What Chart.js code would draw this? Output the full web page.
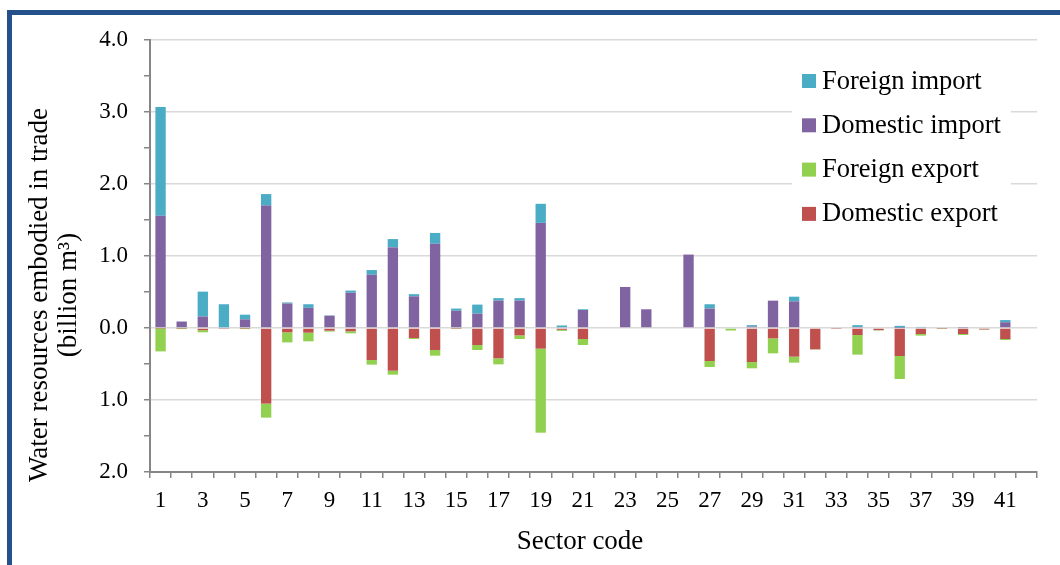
<!DOCTYPE html>
<html>
<head>
<meta charset="utf-8">
<script src="https://cdn.jsdelivr.net/npm/chart.js@4.4.1/dist/chart.umd.min.js"></script>
<style>
  html, body { margin: 0; padding: 0; background: #ffffff; }
  #wrap { position: relative; width: 1060px; height: 565px; overflow: hidden; }
  #frame {
    position: absolute; left: 7px; top: 10px; width: 1100px; height: 600px;
    border: 5px solid #24518A; box-sizing: border-box;
  }
  canvas { position: absolute; left: 0; top: 0; }
</style>
</head>
<body>
<div id="wrap">
  <div id="frame"></div>
  <canvas id="chart" width="1060" height="565"></canvas>
</div>
<script>
// Sector codes 1-42
const sectors = [1,2,3,4,5,6,7,8,9,10,11,12,13,14,15,16,17,18,19,20,21,22,23,24,25,26,27,28,29,30,31,32,33,34,35,36,37,38,39,40,41,42];

// Water embodied in trade, billion m3 (exports are plotted below zero)
const domesticImport = [1.56,0.09,0.16,0.01,0.12,1.70,0.34,0.28,0.17,0.49,0.74,1.12,0.44,1.17,0.24,0.20,0.38,0.38,1.46,0.01,0.25,0.01,0.57,0.26,0.00,1.02,0.27,0.01,0.02,0.38,0.37,0.01,0.01,0.015,0.00,0.005,0.01,0.01,0.005,0.00,0.08,0.00];
const foreignImport  = [1.51,0.00,0.345,0.32,0.065,0.16,0.015,0.05,0.005,0.03,0.065,0.115,0.03,0.15,0.03,0.125,0.035,0.035,0.265,0.025,0.01,0.00,0.00,0.00,0.00,0.00,0.06,0.00,0.02,0.00,0.065,0.00,0.00,0.025,0.00,0.025,0.005,0.00,0.00,0.00,0.03,0.00];
const domesticExport = [-0.005,-0.005,-0.03,-0.005,-0.005,-1.05,-0.06,-0.065,-0.037,-0.046,-0.445,-0.593,-0.139,-0.306,-0.005,-0.236,-0.421,-0.102,-0.287,-0.025,-0.153,0.00,0.00,0.00,-0.01,0.00,-0.458,-0.01,-0.472,-0.144,-0.398,-0.296,-0.005,-0.097,-0.03,-0.389,-0.083,-0.005,-0.083,-0.02,-0.153,0.00];
const foreignExport  = [-0.32,-0.01,-0.03,0.00,-0.01,-0.195,-0.14,-0.12,-0.013,-0.028,-0.064,-0.055,-0.014,-0.078,-0.005,-0.07,-0.084,-0.051,-1.167,-0.015,-0.083,0.00,0.00,0.00,0.00,0.00,-0.084,-0.025,-0.088,-0.208,-0.083,-0.005,0.00,-0.273,-0.005,-0.319,-0.023,-0.005,-0.014,-0.005,-0.014,-0.01];

// Legend order as shown in the key
const legendItems = [
  { label: 'Foreign import',  color: '#4BACC6' },
  { label: 'Domestic import', color: '#8064A2' },
  { label: 'Foreign export',  color: '#92D050' },
  { label: 'Domestic export', color: '#C0504D' }
];

const SERIF = '"Liberation Serif", "Times New Roman", Times, serif';

// Key box drawn inside the plot area, top right
const keyPlugin = {
  id: 'keyBox',
  afterDraw(chart) {
    const ctx = chart.ctx;
    ctx.save();
    ctx.fillStyle = '#ffffff';
    ctx.fillRect(792, 58, 219, 176);
    ctx.font = '26.5px ' + SERIF;
    ctx.textBaseline = 'alphabetic';
    ctx.textAlign = 'left';
    legendItems.forEach((it, i) => {
      const y = 74 + i * 44.3;
      ctx.fillStyle = it.color;
      ctx.fillRect(802, y, 14, 14);
      ctx.fillStyle = '#000000';
      ctx.fillText(it.label, 822, y + 14.5);
    });
    ctx.restore();
  }
};

// Axis titles
const axisTitlePlugin = {
  id: 'axisTitles',
  afterDraw(chart) {
    const ctx = chart.ctx;
    ctx.save();
    ctx.fillStyle = '#000000';
    ctx.font = '27px ' + SERIF;
    ctx.textAlign = 'center';
    ctx.textBaseline = 'alphabetic';
    ctx.fillText('Sector code', 580, 549);
    ctx.translate(0, 295);
    ctx.rotate(-Math.PI / 2);
    ctx.fillText('Water resources embodied in trade', 0, 47);
    ctx.fillText('(billion m\u00B3)', 0, 76);
    ctx.restore();
  }
};

// Stacking follows dataset order: imports upward (domestic first), exports downward (domestic first)
new Chart(document.getElementById('chart'), {
  type: 'bar',
  data: {
    labels: sectors,
    datasets: [
      { label: 'Domestic import', data: domesticImport, backgroundColor: '#8064A2' },
      { label: 'Foreign import',  data: foreignImport,  backgroundColor: '#4BACC6' },
      { label: 'Domestic export', data: domesticExport, backgroundColor: '#C0504D' },
      { label: 'Foreign export',  data: foreignExport,  backgroundColor: '#92D050' }
    ]
  },
  options: {
    responsive: false,
    animation: false,
    layout: { padding: { left: 0, top: 40, right: 23, bottom: 0 } },
    datasets: { bar: { barPercentage: 0.49, categoryPercentage: 1.0, borderWidth: 0 } },
    plugins: { legend: { display: false }, tooltip: { enabled: false } },
    scales: {
      x: {
        stacked: true,
        afterFit(scale) { scale.height = 93; },
        border: { color: '#868686', width: 2 },
        grid: { drawOnChartArea: false, drawTicks: true, tickLength: 6, tickColor: '#868686', lineWidth: 1.5, offset: true },
        ticks: {
          autoSkip: false, maxRotation: 0, minRotation: 0, padding: 9, color: '#000000',
          font: { family: SERIF, size: 23 },
          callback(val, idx) { return idx % 2 === 0 ? String(sectors[idx]) : ''; }
        }
      },
      y: {
        stacked: true,
        min: -2, max: 4,
        afterFit(scale) { scale.width = 150; },
        border: { color: '#868686', width: 2 },
        grid: {
          drawTicks: true, tickLength: 6, tickColor: '#868686', lineWidth: 1.5,
          color(ctx) { return (ctx.tick && Math.abs(ctx.tick.value % 1) > 1e-9) ? 'rgba(0,0,0,0)' : '#D9D9D9'; }
        },
        ticks: {
          stepSize: 0.5, padding: 16, color: '#000000',
          font: { family: SERIF, size: 23 },
          callback(v) { return Math.abs(v % 1) < 1e-9 ? Math.abs(v).toFixed(1) : ''; }
        }
      }
    }
  },
  plugins: [keyPlugin, axisTitlePlugin]
});
</script>
</body>
</html>
